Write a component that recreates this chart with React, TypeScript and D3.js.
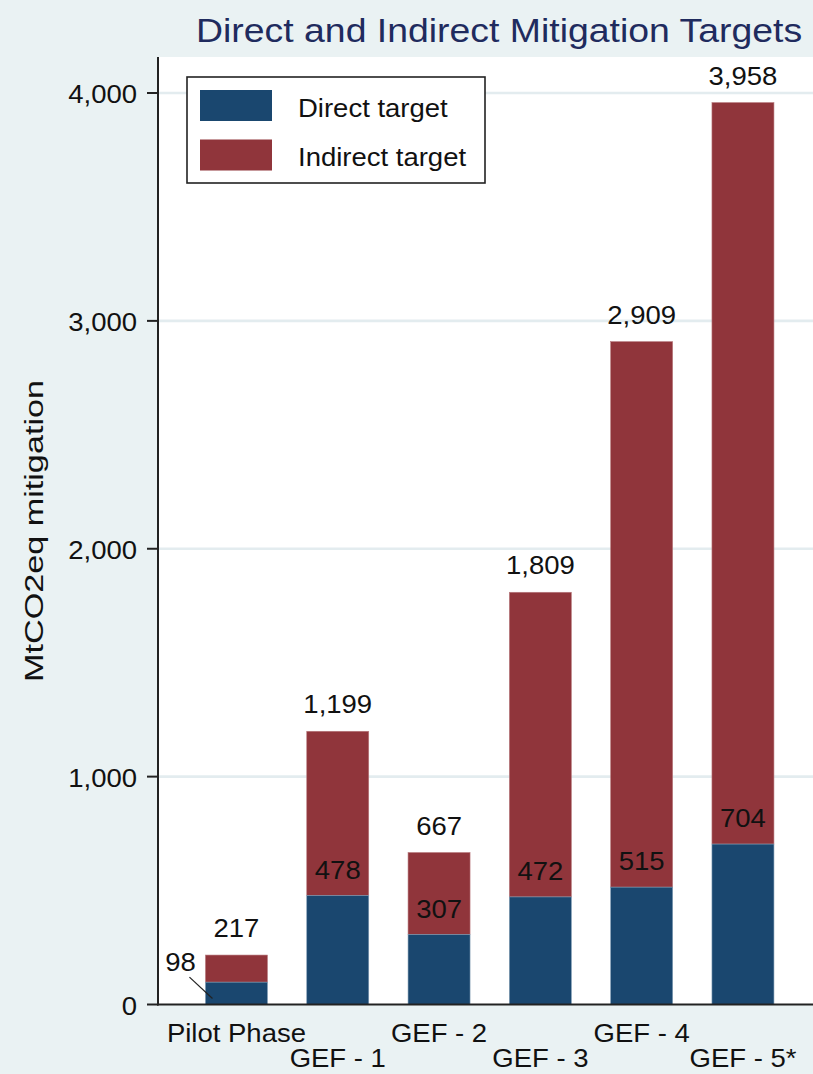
import React from "react";
import * as d3 from "d3";

const phases = ["Pilot Phase", "GEF - 1", "GEF - 2", "GEF - 3", "GEF - 4", "GEF - 5*"];
const directTarget = [98, 478, 307, 472, 515, 704];
const totalTarget = [217, 1199, 667, 1809, 2909, 3958];
const yTicks = [0, 1000, 2000, 3000, 4000];
const legendLabels = ["Direct target", "Indirect target"];

const W = 813;
const H = 1074;
const NAVY = "#1a476f";
const MAROON = "#90353b";
const BG = "#eaf2f3";
const SX = 1.1; // the picture's glyphs are a touch wider than Liberation Sans

const Txt = ({ x, y, size = 25, anchor = "middle", fill = "#111", children }: any) => (
  <text
    transform={`translate(${x},${y}) scale(${SX},1)`}
    fontSize={size}
    textAnchor={anchor}
    fill={fill}
  >
    {children}
  </text>
);

export default function App() {
  const left = 158;
  const top = 57;
  const bottom = 1004.5;

  const x = d3
    .scaleBand<string>()
    .domain(phases)
    .range([185.8, 793.6])
    .paddingInner(0.388)
    .paddingOuter(0.194);
  const y = d3.scaleLinear().domain([0, 4000]).range([bottom, 93]);
  const fmt = d3.format(",");
  const bw = x.bandwidth();

  return (
    <svg
      width={W}
      height={H}
      style={{ position: "absolute", left: 0, top: 0, fontFamily: "'Liberation Sans', Arial, sans-serif" }}
    >
      <rect width={W} height={H} fill={BG} />
      <rect x={left} y={top} width={W - left} height={bottom - top} fill="#fff" />

      {/* grid */}
      {yTicks.slice(1).map(t => (
        <line key={t} x1={left} x2={W} y1={y(t)} y2={y(t)} stroke="#e3ecef" strokeWidth={2.6} />
      ))}

      {/* bars */}
      {phases.map((p, i) => {
        const bx = x(p)!;
        return (
          <g key={p}>
            <rect x={bx} y={y(totalTarget[i])} width={bw} height={y(directTarget[i]) - y(totalTarget[i])}
              fill={MAROON} stroke="#b77a7e" strokeWidth={0.6} />
            <rect x={bx} y={y(directTarget[i])} width={bw} height={y(0) - y(directTarget[i])}
              fill={NAVY} stroke="#7f9bb3" strokeWidth={0.6} />
            <Txt x={bx + bw / 2} y={y(totalTarget[i]) - 18}>{fmt(totalTarget[i])}</Txt>
            {i === 0 ? (
              <g>
                <Txt x={bx - 25} y={y(directTarget[i]) - 11}>{fmt(directTarget[i])}</Txt>
                <line x1={bx - 16} y1={y(directTarget[i]) - 5} x2={bx + 7} y2={y(0) - 6}
                  stroke="#222" strokeWidth={1.2} />
              </g>
            ) : (
              <Txt x={bx + bw / 2} y={y(directTarget[i]) - 17}>{fmt(directTarget[i])}</Txt>
            )}
          </g>
        );
      })}

      {/* axes */}
      <line x1={left} x2={left} y1={top} y2={bottom + 1} stroke="#222" strokeWidth={2} />
      <line x1={left - 1} x2={W} y1={bottom} y2={bottom} stroke="#222" strokeWidth={2} />
      {yTicks.map(t => (
        <g key={t}>
          <line x1={left - 11} x2={left} y1={y(t)} y2={y(t)} stroke="#222" strokeWidth={2} />
          <Txt x={137} y={y(t) + 10} anchor="end">{fmt(t)}</Txt>
        </g>
      ))}
      {phases.map((p, i) => (
        <Txt key={p} x={x(p)! + bw / 2} y={i % 2 === 0 ? 1042 : 1067}>{p}</Txt>
      ))}

      <text
        transform="translate(43,531) rotate(-90)"
        fontSize={25}
        textAnchor="middle"
        textLength={302}
        lengthAdjust="spacingAndGlyphs"
        fill="#111"
      >
        MtCO2eq mitigation
      </text>

      <Txt x={196} y={42} size={34} anchor="start" fill="#1f2b5e">
        Direct and Indirect Mitigation Targets
      </Txt>

      {/* legend */}
      <rect x={187} y={77} width={298} height={106} fill="#fff" stroke="#222" strokeWidth={1.6} />
      {legendLabels.map((l, i) => (
        <g key={l}>
          <rect x={200} y={90 + i * 49.5} width={72} height={31} fill={i === 0 ? NAVY : MAROON} />
          <Txt x={298} y={117 + i * 49} anchor="start">{l}</Txt>
        </g>
      ))}
    </svg>
  );
}
